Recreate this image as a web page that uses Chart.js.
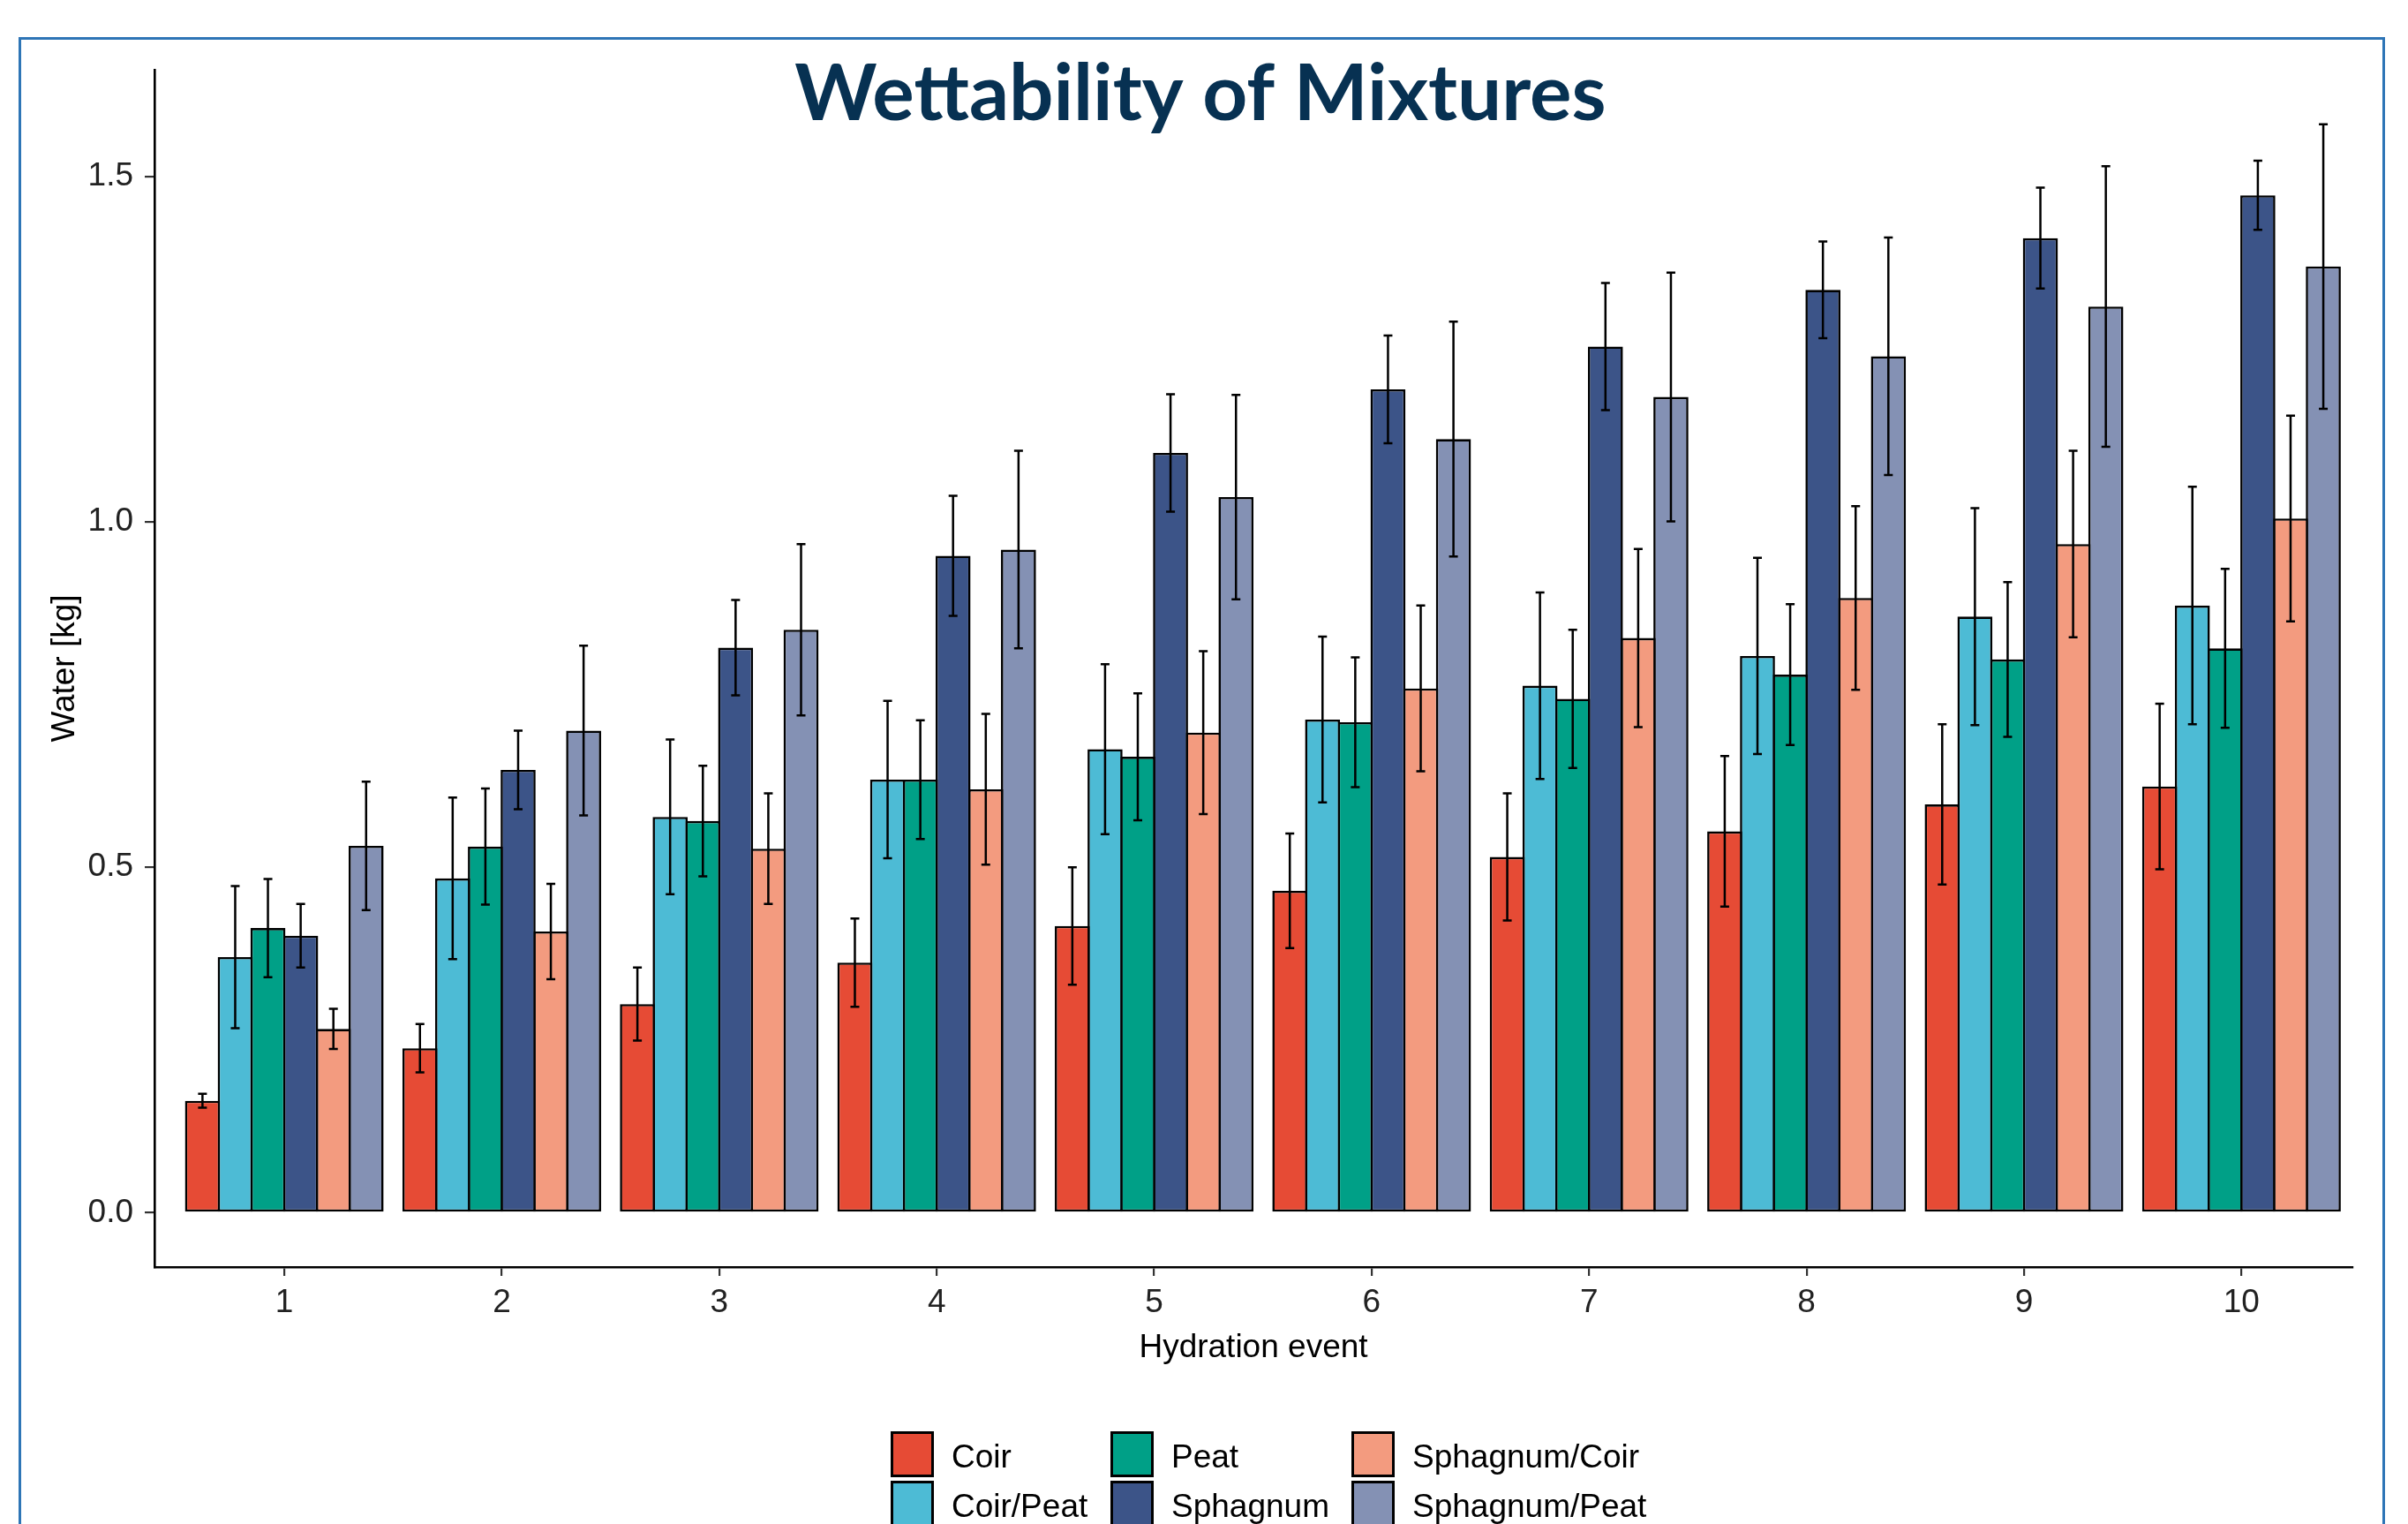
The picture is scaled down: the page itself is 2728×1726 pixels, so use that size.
<!DOCTYPE html>
<html>
<head>
<meta charset="utf-8">
<title>Wettability of Mixtures</title>
<script src="https://cdn.jsdelivr.net/npm/chart.js@4.4.1/dist/chart.umd.min.js"></script>
<style>
  html, body { margin:0; padding:0; background:#ffffff; overflow:hidden; }
  #page { position:relative; width:2728px; height:1726px; overflow:hidden; background:#fff; }
  #frame { position:absolute; left:21px; top:42px; width:2681px; height:1760px; border:3px solid #2E75B6; box-sizing:border-box; }
  #chart { position:absolute; left:0; top:0; }
</style>
</head>
<body>
<div id="page">
  <div id="frame"></div>
  <canvas id="chart" width="2728" height="1726"></canvas>
</div>
<script>
// ---------- data ----------
const chartTitle = 'Wettability of Mixtures';
const xAxisTitle = 'Hydration event';
const yAxisTitle = 'Water [kg]';
const hydrationEvents = ['1','2','3','4','5','6','7','8','9','10'];
const yTickValues = [0, 0.5, 1.0, 1.5];
const seriesNames = ['Coir','Coir/Peat','Peat','Sphagnum','Sphagnum/Coir','Sphagnum/Peat'];
const seriesColors = ['#E64B35','#4DBBD5','#00A087','#3C5488','#F39B7F','#8491B4'];

const coir            = [0.162, 0.238, 0.302, 0.362, 0.415, 0.466, 0.515, 0.552, 0.591, 0.617];
const coirErr         = [0.010, 0.035, 0.053, 0.064, 0.085, 0.083, 0.092, 0.109, 0.116, 0.120];
const coirPeat        = [0.370, 0.484, 0.573, 0.627, 0.671, 0.714, 0.763, 0.806, 0.863, 0.879];
const coirPeatErr     = [0.103, 0.117, 0.112, 0.114, 0.123, 0.120, 0.135, 0.142, 0.157, 0.172];
const peat            = [0.412, 0.530, 0.567, 0.627, 0.660, 0.710, 0.744, 0.779, 0.801, 0.817];
const peatErr         = [0.071, 0.084, 0.080, 0.086, 0.092, 0.094, 0.100, 0.102, 0.112, 0.115];
const sphagnum        = [0.401, 0.641, 0.818, 0.951, 1.100, 1.192, 1.254, 1.336, 1.411, 1.473];
const sphagnumErr     = [0.046, 0.057, 0.069, 0.087, 0.085, 0.078, 0.092, 0.070, 0.073, 0.050];
const sphagnumCoir    = [0.266, 0.407, 0.527, 0.613, 0.695, 0.759, 0.832, 0.890, 0.968, 1.005];
const sphagnumCoirErr = [0.029, 0.069, 0.080, 0.109, 0.118, 0.120, 0.129, 0.133, 0.135, 0.149];
const sphagnumPeat    = [0.531, 0.698, 0.844, 0.960, 1.036, 1.120, 1.181, 1.240, 1.312, 1.370];
const sphagnumPeatErr = [0.093, 0.123, 0.124, 0.143, 0.148, 0.170, 0.180, 0.172, 0.203, 0.206];

const seriesValues = [coir, coirPeat, peat, sphagnum, sphagnumCoir, sphagnumPeat];
const seriesErrors = [coirErr, coirPeatErr, peatErr, sphagnumErr, sphagnumCoirErr, sphagnumPeatErr];

// ggplot-like 5% expansion of the data range (0 .. highest error bar)
const upperMax = Math.max(...seriesValues.flatMap((vals, i) => vals.map((v, k) => v + seriesErrors[i][k])));
const yMin = -0.05 * upperMax;
const yMax = upperMax * 1.05;

// ---------- plugins ----------
const errorBarPlugin = {
  id: 'errorBars',
  afterDatasetsDraw(chart) {
    const ctx = chart.ctx;
    const yScale = chart.scales.y;
    ctx.save();
    ctx.strokeStyle = '#000';
    ctx.lineWidth = 2.5;
    chart.data.datasets.forEach((ds, i) => {
      const meta = chart.getDatasetMeta(i);
      const errs = seriesErrors[i];
      meta.data.forEach((bar, k) => {
        const v = seriesValues[i][k], e = errs[k];
        const yTop = yScale.getPixelForValue(v + e);
        const yBot = yScale.getPixelForValue(v - e);
        const x = bar.x, hw = 5;
        ctx.beginPath();
        ctx.moveTo(x, yTop); ctx.lineTo(x, yBot);
        ctx.moveTo(x - hw, yTop); ctx.lineTo(x + hw, yTop);
        ctx.moveTo(x - hw, yBot); ctx.lineTo(x + hw, yBot);
        ctx.stroke();
      });
    });
    ctx.restore();
  }
};

const overlayPlugin = {
  id: 'overlay',
  afterDraw(chart) {
    const ctx = chart.ctx;
    ctx.save();
    // Title
    let size = 100;
    ctx.font = '700 ' + size + 'px Lato, "Open Sans", sans-serif';
    const w = ctx.measureText(chartTitle).width;
    size = size * 919 / w;
    ctx.font = '700 ' + size.toFixed(1) + 'px Lato, "Open Sans", sans-serif';
    ctx.fillStyle = '#073152';
    ctx.textAlign = 'center';
    ctx.textBaseline = 'alphabetic';
    ctx.fillText(chartTitle, 1360, 136);

    // Legend (2 rows, filled by column)
    const colX = [1009, 1258, 1531];
    const rowY = [1621, 1677];
    const kw = 49, kh = 52;
    seriesNames.forEach((name, i) => {
      const x = colX[Math.floor(i / 2)], y = rowY[i % 2];
      ctx.fillStyle = seriesColors[i];
      ctx.fillRect(x, y, kw, kh);
      ctx.lineWidth = 3;
      ctx.strokeStyle = '#000';
      ctx.strokeRect(x + 1.5, y + 1.5, kw - 3, kh - 3);
      ctx.fillStyle = '#000';
      ctx.font = '37px "Liberation Sans", Arial, sans-serif';
      ctx.textAlign = 'left';
      ctx.textBaseline = 'middle';
      ctx.fillText(name, x + 69, y + kh / 2 + 5);
    });
    ctx.restore();
  }
};

// ---------- chart ----------
const datasets = seriesNames.map((name, i) => ({
  label: name,
  data: hydrationEvents.map((h, k) => ({ x: k + 1, y: seriesValues[i][k] })),
  backgroundColor: seriesColors[i],
  borderColor: '#000',
  borderWidth: 2.6,
  borderSkipped: false,
  categoryPercentage: 0.903,
  barPercentage: 1.07
}));

const tickFont = { family: '"Liberation Sans", Arial, sans-serif', size: 37 };
const titleFont = { family: '"Liberation Sans", Arial, sans-serif', size: 37 };

new Chart(document.getElementById('chart'), {
  type: 'bar',
  data: { datasets },
  options: {
    responsive: false,
    devicePixelRatio: 1,
    animation: false,
    layout: { padding: { left: 40, right: 63, top: 79, bottom: 177 } },
    plugins: { legend: { display: false }, tooltip: { enabled: false }, title: { display: false } },
    scales: {
      x: {
        type: 'linear',
        min: 0.403,
        max: 10.51,
        offset: false,
        afterBuildTicks: (scale) => { scale.ticks = hydrationEvents.map((h, k) => ({ value: k + 1 })); },
        ticks: {
          callback: (v) => hydrationEvents[Math.round(v) - 1],
          font: tickFont, color: '#222', padding: 9, maxRotation: 0, autoSkip: false
        },
        grid: { display: true, offset: false, drawOnChartArea: false, drawTicks: true, tickLength: 10, color: '#333', lineWidth: 2.2 },
        border: { display: true, color: '#000', width: 2.6 },
        title: { display: true, text: xAxisTitle, font: titleFont, color: '#000', padding: { top: 0, bottom: 0 } },
        afterFit: (scale) => { scale.height = 114; }
      },
      y: {
        type: 'linear',
        min: yMin,
        max: yMax,
        afterBuildTicks: (scale) => { scale.ticks = yTickValues.map(v => ({ value: v })); },
        ticks: { callback: (v) => Number(v).toFixed(1), font: tickFont, color: '#222', padding: 13 },
        grid: { display: true, offset: false, drawOnChartArea: false, drawTicks: true, tickLength: 11, color: '#333', lineWidth: 2.2 },
        border: { display: true, color: '#000', width: 2.6 },
        title: { display: true, text: yAxisTitle, font: titleFont, color: '#000', padding: { top: 12, bottom: 0 } },
        afterFit: (scale) => { scale.width = 135; }
      }
    }
  },
  plugins: [errorBarPlugin, overlayPlugin]
});
</script>
</body>
</html>
